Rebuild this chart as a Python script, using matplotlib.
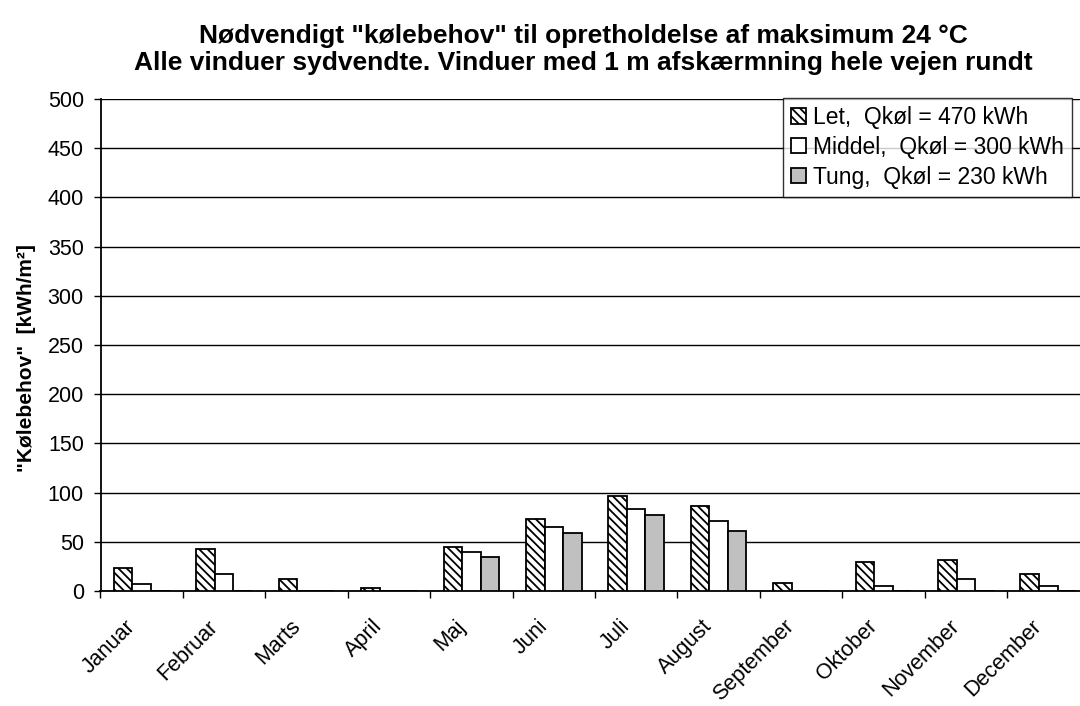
import numpy as np
import matplotlib
matplotlib.use('Agg')
import matplotlib.pyplot as plt
from matplotlib.transforms import ScaledTranslation

plt.rcParams['font.family'] = ['Liberation Sans', 'DejaVu Sans']
plt.rcParams['hatch.linewidth'] = 1.3

# data
months = ['Januar', 'Februar', 'Marts', 'April', 'Maj', 'Juni', 'Juli',
          'August', 'September', 'Oktober', 'November', 'December']
let = [23, 43, 12, 3, 45, 73, 97, 86, 8, 29, 32, 17]
middel = [7, 17, 0, 0, 40, 65, 83, 71, 0, 5, 12, 5]
tung = [0, 0, 0, 0, 35, 59, 77.5, 61, 0, 0, 0, 0]
labels = ['Let,  Qkøl = 470 kWh', 'Middel,  Qkøl = 300 kWh', 'Tung,  Qkøl = 230 kWh']

fig = plt.figure(figsize=(10.8, 7.06), dpi=100)
ax = fig.add_axes([100.5 / 1080, 1 - 591 / 706, 989 / 1080, 492 / 706])

x = np.arange(len(months))
w = 0.225
ax.bar(x - w, let, w, color='white', edgecolor='black', hatch='\\\\\\\\', lw=1.3, label=labels[0], zorder=3)
ax.bar(x, middel, w, color='white', edgecolor='black', lw=1.3, label=labels[1], zorder=3)
ax.bar(x + w, tung, w, color='#c0c0c0', edgecolor='black', lw=1.3, label=labels[2], zorder=3)

ax.set_xlim(-0.5, 11.5)
ax.set_ylim(0, 500)
ax.set_yticks(np.arange(0, 501, 50))
ax.yaxis.grid(True, color='black', lw=1)
ax.set_axisbelow(True)

# month labels: rotated, right end a bit left of the category centre
ax.set_xticks(np.arange(-0.5, 12, 1))
ax.tick_params(axis='x', length=5, width=1, direction='out', labelbottom=False)
shift = ScaledTranslation(-17 / 100, -25 / 100, fig.dpi_scale_trans)
for i, m in enumerate(months):
    ax.text(i, 0, m, transform=ax.get_xaxis_transform() + shift, rotation=45,
            ha='right', va='top', rotation_mode='anchor', fontsize=15.5)
ax.tick_params(axis='y', labelsize=15.5, length=5, width=1, direction='out', pad=7)

for s in ['top', 'right']:
    ax.spines[s].set_visible(False)
ax.spines['left'].set_linewidth(1.3)
ax.spines['bottom'].set_linewidth(1.3)

ax.set_ylabel('"Kølebehov"  [kWh/m²]', fontsize=15, fontweight='bold')
ax.yaxis.set_label_coords(-0.065, 0.474)
ax.set_title('Nødvendigt "kølebehov" til opretholdelse af maksimum 24 °C\n'
             'Alle vinduer sydvendte. Vinduer med 1 m afskærmning hele vejen rundt',
             fontsize=19, fontweight='bold', pad=21, linespacing=1.15, x=0.488)

leg = ax.legend(loc='upper left', bbox_to_anchor=(783 / 1080, 1 - 98 / 706),
                bbox_transform=fig.transFigure, fontsize=16.5, frameon=True, fancybox=False,
                edgecolor='black', handlelength=0.65, handleheight=0.65, handletextpad=0.3,
                borderaxespad=0, labelspacing=0.3, borderpad=0.35)
leg.get_frame().set_linewidth(1)

fig.savefig('out.png', dpi=100)
